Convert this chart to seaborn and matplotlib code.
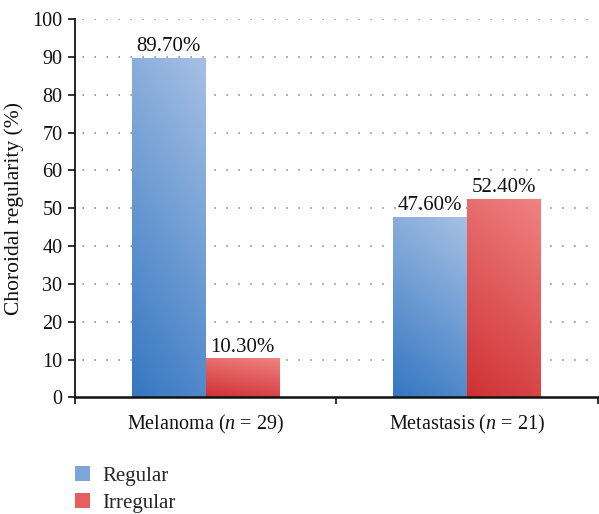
import numpy as np
import pandas as pd
import matplotlib
matplotlib.use("Agg")
import matplotlib.pyplot as plt
from matplotlib.colors import LinearSegmentedColormap
from matplotlib.patches import Patch
import seaborn as sns

categories = ["Melanoma", "Metastasis"]
sample_sizes = [29, 21]
regular = [89.7, 47.6]
irregular = [10.3, 52.4]
series_names = ["Regular", "Irregular"]
y_ticks = [0, 10, 20, 30, 40, 50, 60, 70, 80, 90, 100]

sns.set_theme(style="white")
plt.rcParams["font.family"] = ["Liberation Serif", "DejaVu Serif"]
plt.rcParams["mathtext.fontset"] = "custom"
plt.rcParams["mathtext.rm"] = "Liberation Serif"
plt.rcParams["mathtext.it"] = "Liberation Serif:italic"

labels = [f"{c} ($n$ = {n})" for c, n in zip(categories, sample_sizes)]
df = pd.DataFrame({
    "group": labels * 2,
    "series": [series_names[0]] * 2 + [series_names[1]] * 2,
    "value": regular + irregular,
})

fig = plt.figure(figsize=(5.99, 5.14), dpi=100)
ax = fig.add_axes([0.1252, 0.2267, 0.8728, 0.7363])

flat = {"Regular": "#6f9bd4", "Irregular": "#e35a5a"}
sns.barplot(data=df, x="group", y="value", hue="series", palette=flat,
            width=0.566, gap=0, ax=ax, legend=False, saturation=1)

gradients = {
    "Regular": LinearSegmentedColormap.from_list("reg", ["#3577c2", "#a6c0e4"]),
    "Irregular": LinearSegmentedColormap.from_list("irr", ["#cf3133", "#f08282"]),
}

# diagonal gradient inside each bar, dark at lower-left, light at upper-right
xx, yy = np.meshgrid(np.linspace(0, 1, 64), np.linspace(0, 1, 64))
shade = 0.75 * yy + 0.25 * xx
for container, name in zip(ax.containers, series_names):
    for bar, val in zip(container, df.loc[df.series == name, "value"]):
        x0, y0 = bar.get_x(), bar.get_y()
        w, h = bar.get_width(), bar.get_height()
        bar.set_facecolor("none")
        bar.set_edgecolor("none")
        img = ax.imshow(shade, cmap=gradients[name], origin="lower",
                        extent=[x0, x0 + w, y0, y0 + h], aspect="auto",
                        vmin=0, vmax=1, zorder=2)
        img.set_clip_path(bar)
        ax.text(x0 + w / 2, y0 + h + 0.5, f"{val:.2f}%", ha="center",
                va="bottom", fontsize=15, color="#111111", zorder=3)

ax.set_xlim(-0.5, 1.5)
ax.set_ylim(0, 100)
ax.set_yticks(y_ticks)
ax.set_yticklabels([str(t) for t in y_ticks], fontsize=14.5)
for t in y_ticks[1:]:
    ax.axhline(t, color="#808080", lw=1.1, linestyle=(3, (1, 6.85)), zorder=1)

ax.set_xticks([0, 1])
ax.set_xticklabels(labels, fontsize=14.5)
ax.set_xticks([-0.5, 0.5, 1.5], minor=True)
ax.tick_params(axis="x", which="major", length=0, pad=11, colors="#111111")
ax.tick_params(axis="x", which="minor", length=5, width=1.2, direction="out",
               bottom=True, color="#111111")
ax.tick_params(axis="y", length=5, width=1.2, direction="out", left=True,
               pad=4, colors="#111111")
ax.set_xlabel("")
ax.set_ylabel("Choroidal regularity (%)", fontsize=15.5, labelpad=6,
              color="#111111")

for side in ["top", "right"]:
    ax.spines[side].set_visible(False)
ax.spines["left"].set_color("#111111")
ax.spines["left"].set_linewidth(1.3)
ax.spines["bottom"].set_color("#111111")
ax.spines["bottom"].set_linewidth(1.8)

handles = [Patch(facecolor="#7ea5da", edgecolor="none"),
           Patch(facecolor="#e65e5e", edgecolor="none")]
fig.legend(handles, series_names, loc="upper left",
           bbox_to_anchor=(0.111, 0.109), frameon=False, fontsize=15,
           handlelength=0.72, handleheight=0.72, handletextpad=0.6,
           labelspacing=0.33, borderaxespad=0)

fig.savefig("out.png", dpi=100)
